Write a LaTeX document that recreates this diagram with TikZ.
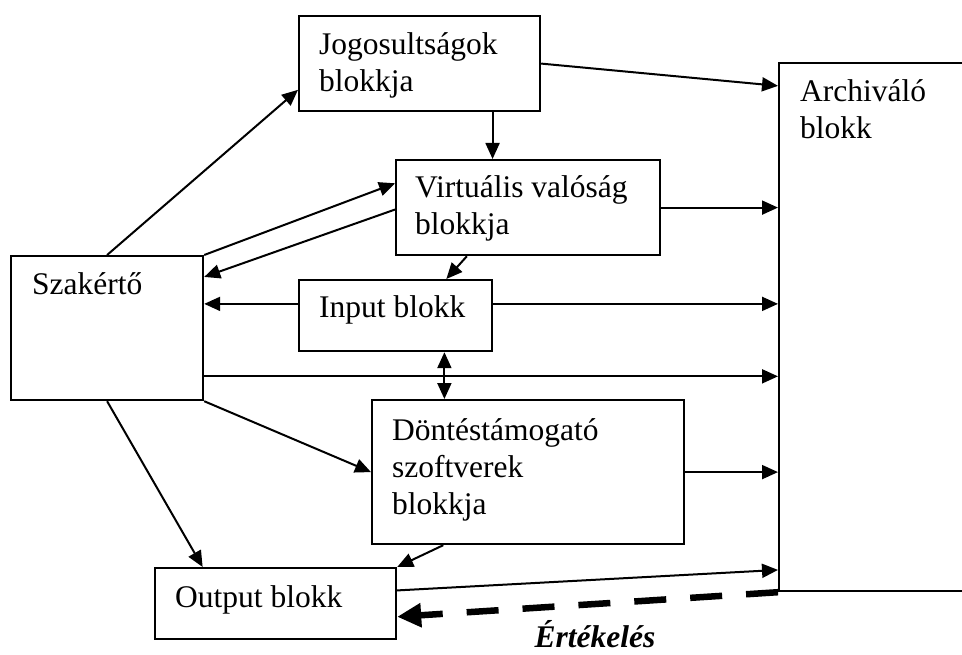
\documentclass[tikz,border=0pt]{standalone}
\usepackage{fontspec}
\setmainfont{Liberation Serif}
\usetikzlibrary{arrows.meta,calc}

% first-line baseline alignment for multi-line box texts
\newcommand{\sorok}[1]{\begin{tabular}[t]{@{}l@{}}#1\end{tabular}}

\tikzset{
  blokk/.style={draw, line width=2.2pt, inner sep=0pt, anchor=north west},
  felirat/.style={anchor=base west, inner sep=0pt,
    font=\fontsize{31.5}{37}\selectfont},
  nyil/.style={line width=2pt, -{Triangle[length=16pt,width=14pt]}},
  ketnyil/.style={line width=2pt, {Triangle[length=16pt,width=14pt]}-{Triangle[length=16pt,width=14pt]}},
  ertekeles/.style={line width=6.5pt, dash pattern=on 32pt off 24pt,
    -{Triangle[length=24pt,width=23pt]}},
}

\begin{document}
\begin{tikzpicture}[x=1pt, y=-1pt]
  \useasboundingbox (0,0) rectangle (962,655);
  \clip (0,0) rectangle (962,655);

  % boxes
  \node[blokk, minimum width=241pt, minimum height=95pt]  (jog)  at (298,15)  {};
  \node[blokk, minimum width=264pt, minimum height=95pt]  (vir)  at (395,159) {};
  \node[blokk, minimum width=192pt, minimum height=144pt] (szak) at (10,255)  {};
  \node[blokk, minimum width=193pt, minimum height=71pt]  (inp)  at (298,279) {};
  \node[blokk, minimum width=312pt, minimum height=144pt] (dont) at (371,399) {};
  \node[blokk, minimum width=241pt, minimum height=71pt]  (out)  at (154,567) {};
  \node[blokk, minimum width=240pt, minimum height=528pt] (arch) at (778,62)  {};

  % box texts
  \node[felirat] (jogT)  at ($(jog.north west)+(21,40)$)  {\sorok{Jogosultságok\\blokkja}};
  \node[felirat] (virT)  at ($(vir.north west)+(20,39)$)  {\sorok{Virtuális valóság\\blokkja}};
  \node[felirat] (szakT) at ($(szak.north west)+(22,40)$) {Szakértő};
  \node[felirat] (inpT)  at ($(inp.north west)+(21,39)$)  {Input blokk};
  \node[felirat] (dontT) at ($(dont.north west)+(21,41)$) {\sorok{Döntéstámogató\\szoftverek\\blokkja}};
  \node[felirat] (outT)  at ($(out.north west)+(21,40)$)  {Output blokk};
  \node[felirat] (archT) at ($(arch.north west)+(22,40)$) {\sorok{Archiváló\\blokk}};

  % connection points on the box edges
  \coordinate (jogL)  at ($(jog.north west)!0.77!(jog.south west)$);
  \coordinate (jogB)  at ($(jog.south west)!0.80!(jog.south east)$);
  \coordinate (virL1) at ($(vir.north west)!0.25!(vir.south west)$);
  \coordinate (virL2) at ($(vir.north west)!0.52!(vir.south west)$);
  \coordinate (virB)  at ($(vir.south west)!0.27!(vir.south east)$);
  \coordinate (szakR) at ($(szak.north east)!0.15!(szak.south east)$);
  \coordinate (szakR2) at ($(szak.north east)!0.83!(szak.south east)$);
  \coordinate (inpL)  at ($(inp.north west)!0.34!(inp.south west)$);
  \coordinate (inpR)  at ($(inp.north east)!0.34!(inp.south east)$);
  \coordinate (inpTop) at ($(inp.north west)!0.76!(inp.north east)$);
  \coordinate (inpB)  at ($(inp.south west)!0.75!(inp.south east)$);
  \coordinate (dontB) at ($(dont.south west)!0.23!(dont.south east)$);
  \coordinate (outTop) at ($(out.north west)!0.20!(out.north east)$);
  \coordinate (outR1) at ($(out.north east)!0.32!(out.south east)$);
  \coordinate (outR2) at ($(out.north east)!0.68!(out.south east)$);
  \coordinate (archJ) at ($(arch.north west)!0.045!(arch.south west)$);
  \coordinate (archO) at ($(arch.north west)!0.958!(arch.south west)$);

  % connectors
  \draw[nyil] (szak.north) -- (jogL);
  \draw[nyil] (szak.north east) -- (virL1);
  \draw[nyil] (virL2) -- (szakR);
  \draw[nyil] (inpL) -- (inpL -| szak.east);
  \draw[nyil] (virB) -- (inpTop);
  \draw[nyil] (jogB) -- (jogB |- vir.north);
  \draw[nyil] (jog.east) -- (archJ);
  \draw[nyil] (vir.east) -- (vir.east -| arch.west);
  \draw[nyil] (inpR) -- (inpR -| arch.west);
  \draw[nyil] (szakR2) -- (szakR2 -| arch.west);
  \draw[ketnyil] (inpB) -- (inpB |- dont.north);
  \draw[nyil] (szak.south east) -- (dont.west);
  \draw[nyil] (szak.south) -- (outTop);
  \draw[nyil] (dontB) -- (out.north east);
  \draw[nyil] (dont.east) -- (dont.east -| arch.west);
  \draw[nyil] (outR1) -- (archO);

  % evaluation feedback
  \draw[ertekeles] (arch.south west) -- (outR2);
  \node[anchor=base, inner sep=0pt, font=\fontsize{31.5}{37}\selectfont\bfseries\itshape]
    (ert) at (595,647) {Értékelés};
\end{tikzpicture}
\end{document}
